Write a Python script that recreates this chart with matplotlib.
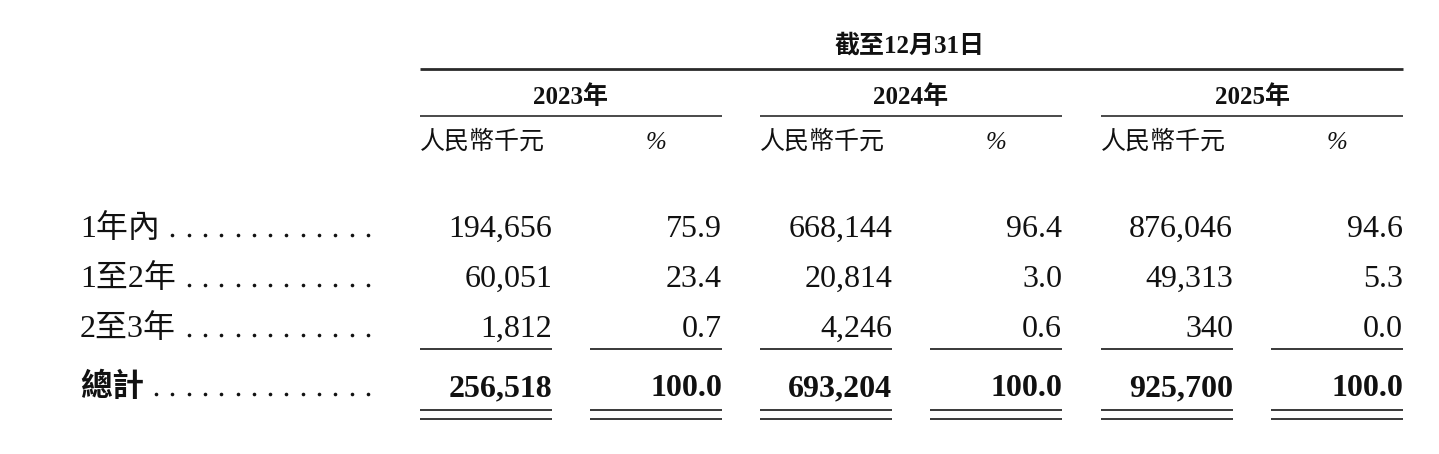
import matplotlib
matplotlib.use("Agg")
import matplotlib.pyplot as plt

plt.rcParams['font.family'] = ['Liberation Serif', 'Noto Sans CJK TC', 'DejaVu Sans']

# 表格数据
title = "截至12月31日"
years = ["2023年", "2024年", "2025年"]
unit_label = "人民幣千元"
pct_label = "%"
row_labels = ["1年內", "1至2年", "2至3年"]
total_label = "總計"
amount_2023 = [194656, 60051, 1812]
amount_2024 = [668144, 20814, 4246]
amount_2025 = [876046, 49313, 340]
pct_2023 = [75.9, 23.4, 0.7]
pct_2024 = [96.4, 3.0, 0.6]
pct_2025 = [94.6, 5.3, 0.0]
total_amount = [256518, 693204, 925700]
total_pct = [100.0, 100.0, 100.0]

amounts = [amount_2023, amount_2024, amount_2025]
pcts = [pct_2023, pct_2024, pct_2025]

W, H = 1439, 454
fig = plt.figure(figsize=(W / 100, H / 100), dpi=100)
ax = fig.add_axes([0, 0, 1, 1])
ax.set_xlim(0, W)
ax.set_ylim(H, 0)
ax.axis('off')

# 版面位置 (像素, 文字按基线放置)
col_left = [420, 760, 1101]
col_width = 302
amt_w = 132
row_base = [237, 287, 337]
total_base = 396
label_x = 80
dots_end = 368
dot_step = 16.3
fs = 23
hfs = 18
ink = '#111111'
rule = '#2a2a2a'

ax.text(910, 53, title, ha='center', va='baseline', fontsize=hfs, fontweight='bold', color=ink)
ax.plot([col_left[0], col_left[-1] + col_width], [69, 69], color=rule, lw=2.0, solid_capstyle='butt')

for i, yr in enumerate(years):
    x0 = col_left[i]
    x1 = x0 + col_width
    ax.text((x0 + x1) / 2, 104, yr, ha='center', va='baseline', fontsize=hfs, fontweight='bold', color=ink)
    ax.plot([x0, x1], [116, 116], color=rule, lw=1.2, solid_capstyle='butt')
    ax.text(x0, 149, unit_label, ha='left', va='baseline', fontsize=hfs, style='italic', color=ink)
    ax.text(x1 - 66, 149, pct_label, ha='center', va='baseline', fontsize=hfs, style='italic', color=ink)

    for j in range(len(row_labels)):
        ax.text(x0 + amt_w, row_base[j], f"{amounts[i][j]:,}", ha='right', va='baseline', fontsize=fs, color=ink)
        ax.text(x1, row_base[j], f"{pcts[i][j]:.1f}", ha='right', va='baseline', fontsize=fs, color=ink)
    ax.text(x0 + amt_w, total_base, f"{total_amount[i]:,}", ha='right', va='baseline', fontsize=fs,
            fontweight='bold', color=ink)
    ax.text(x1, total_base, f"{total_pct[i]:.1f}", ha='right', va='baseline', fontsize=fs,
            fontweight='bold', color=ink)

    # 合计上方单线、下方双线
    for a, b in [(x0, x0 + amt_w), (x1 - amt_w, x1)]:
        ax.plot([a, b], [349, 349], color=rule, lw=1.3, solid_capstyle='butt')
        ax.plot([a, b], [410, 410], color=rule, lw=1.3, solid_capstyle='butt')
        ax.plot([a, b], [419, 419], color=rule, lw=1.3, solid_capstyle='butt')

# 行标签与引导点
fig.canvas.draw()
renderer = fig.canvas.get_renderer()
inv = ax.transData.inverted()
labels = row_labels + [total_label]
bases = row_base + [total_base]
for lab, y in zip(labels, bases):
    weight = 'bold' if lab == total_label else 'normal'
    t = ax.text(label_x, y, lab, ha='left', va='baseline', fontsize=fs, fontweight=weight, color=ink)
    bb = t.get_window_extent(renderer)
    end_x = inv.transform((bb.x1, bb.y0))[0]
    x = dots_end
    while x > end_x + 12:
        ax.plot(x, y - 2, 'o', ms=2.6, color=ink, mew=0)
        x -= dot_step

fig.savefig("out.png", dpi=100)
